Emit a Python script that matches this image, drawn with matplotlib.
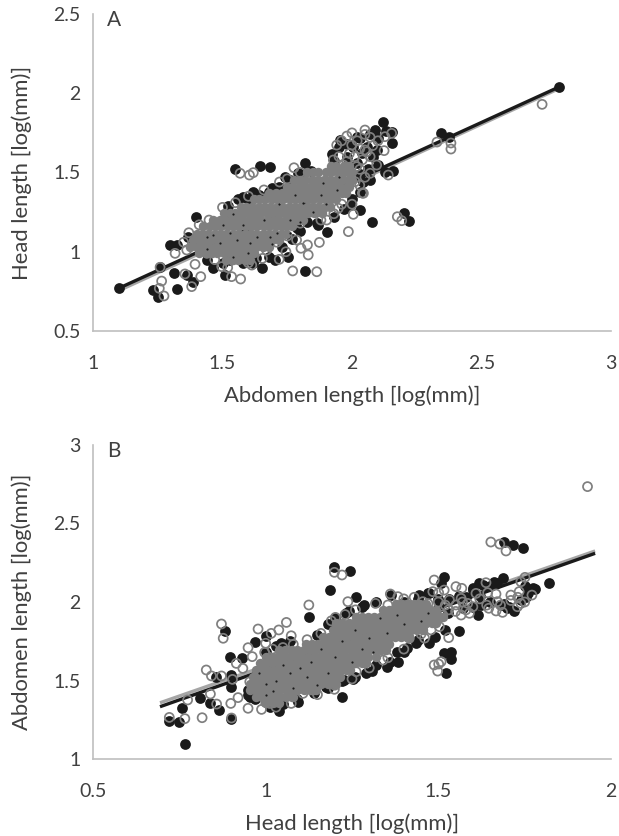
import matplotlib
matplotlib.use("Agg")
import matplotlib.pyplot as plt

plt.rcParams['font.family'] = ['Lato', 'DejaVu Sans']

BLACK = '#1a1a1a'
GREY = '#7f7f7f'
AXIS = '#bfbfbf'
TEXT = '#404040'

##################################################
# Panel A, lone filled points (abdomen, head)
a_black_x = [1.10,1.233,1.252,1.326,1.259,1.314,1.362,1.387,1.297,1.326,1.368,1.398,1.516,1.58,1.619,1.69,1.741,1.819,
             1.645,1.683,1.548,1.793,1.465,1.51,1.654,1.703,1.754,1.819,1.902,2.076,2.031,1.992,2.201,2.221,2.121,2.089,
             2.153,2.153,2.127,2.16,2.044,2.018,1.954,1.921,2.095,2.057,2.005,1.864,1.786,1.825,1.529,1.619,1.555,1.40,
             1.439,2.344,2.375,2.80,
             1.52,1.56,1.60,1.64,1.68,1.72,1.76,1.80,1.84,1.50,1.58,1.63,1.68,1.73,1.77,1.80,1.87,1.93,1.97,2.00,2.03,
             1.95,1.98,2.03,2.07,2.10,2.13,2.04,2.08,2.02,2.06,2.10,1.98,1.93,2.03,2.07]
a_black_y = [0.77,0.759,0.717,0.763,0.902,0.868,0.853,0.811,1.043,1.043,1.095,1.221,1.253,1.348,1.379,1.40,1.474,1.558,
             1.541,1.533,1.52,1.495,0.895,0.853,0.895,0.948,0.969,0.881,1.127,1.186,1.263,1.295,1.247,1.196,1.816,1.768,
             1.758,1.684,1.505,1.512,1.442,1.726,1.705,1.617,1.642,1.663,1.663,1.179,1.148,1.19,0.948,0.927,0.99,1.085,
             0.948,1.749,1.724,2.04,
             1.29,1.33,1.33,1.36,1.38,1.41,1.45,1.49,1.51,0.93,0.93,0.96,0.97,1.03,1.08,1.13,1.17,1.22,1.27,1.33,1.38,
             1.66,1.68,1.72,1.74,1.72,1.76,1.62,1.60,1.56,1.52,1.55,1.60,1.57,1.49,1.45]
# Panel A, lone open points
a_grey_x = [1.259,1.265,1.256,1.274,1.381,1.416,1.355,1.394,1.317,1.362,1.448,1.568,1.604,1.619,1.776,1.57,1.535,1.497,
            1.613,1.719,1.654,1.771,1.864,1.831,1.828,1.874,1.803,1.786,1.745,1.986,2.005,2.175,2.192,1.902,1.947,2.044,
            2.14,2.095,2.124,2.057,2.153,2.127,2.05,2.07,1.98,1.941,1.999,2.05,1.928,1.967,2.018,2.07,2.012,2.734,2.328,
            2.382,2.382,
            1.95,1.98,2.01,2.04,2.07,1.99,2.03,2.08,2.10,2.02,2.05,2.00,1.96,2.03,2.05,2.03,2.04,2.00,1.96,1.93,1.88,
            1.35,1.37,1.41,1.50,1.55,1.60,1.66,1.72,1.75,1.80,1.52,1.47,1.44,1.60,1.67,1.71,1.75,1.80]
a_grey_y = [0.902,0.815,0.769,0.721,0.78,0.843,0.86,0.921,0.99,1.011,1.20,1.495,1.484,1.499,1.53,0.828,0.843,0.906,
            0.916,0.952,0.958,0.879,0.874,0.98,1.043,1.059,1.022,1.074,1.00,1.127,1.236,1.221,1.196,1.20,1.274,1.369,
            1.484,1.547,1.638,1.631,1.747,1.726,1.768,1.722,1.73,1.673,1.673,1.642,1.579,1.547,1.537,1.495,1.442,1.93,
            1.692,1.686,1.648,
            1.60,1.57,1.60,1.58,1.60,1.62,1.65,1.67,1.70,1.70,1.74,1.75,1.70,1.52,1.47,1.42,1.37,1.30,1.30,1.24,1.20,
            1.06,1.12,1.17,1.28,1.31,1.35,1.39,1.44,1.46,1.50,0.90,0.95,0.99,0.93,1.01,1.06,1.10,1.18]
# Panel A, the dense cloud read row by row, and the filled points showing through it
a_speck_x = [1.465,1.529,1.555,1.49,1.606,1.632,1.683,1.761,1.812,1.889,1.941,1.709,1.542,1.439,1.761,1.85,1.90,1.66,1.58,
             1.50,1.72,1.78,1.95,1.60,1.44,1.80,1.88,1.69,1.54]
a_speck_y = [1.106,1.116,1.074,1.053,1.053,1.095,1.095,1.20,1.305,1.432,1.39,1.116,0.969,1.095,1.116,1.25,1.30,1.20,1.17,
             1.17,1.30,1.36,1.47,0.99,1.02,1.19,1.36,1.05,1.24]
a_cloud_y = [1.54,1.50,1.45,1.41,1.37,1.33,1.285,1.245,1.20,1.16,1.115,1.075,1.03,0.99,0.95]
a_cloud_x = [[1.92,1.94,1.97,1.99],
             [1.825,1.85,1.87,1.90,1.92,1.945,1.97,1.99,2.00],
             [1.775,1.80,1.82,1.845,1.87,1.89,1.915,1.94,1.96,1.985,2.00],
             [1.75,1.77,1.795,1.82,1.84,1.865,1.885,1.91,1.935,1.955,1.98,1.99],
             [1.68,1.705,1.73,1.75,1.775,1.80,1.82,1.845,1.87,1.89,1.915,1.94,1.96,1.975],
             [1.62,1.64,1.665,1.69,1.71,1.735,1.76,1.78,1.805,1.83,1.85,1.875,1.90,1.92,1.94],
             [1.57,1.59,1.615,1.64,1.66,1.685,1.71,1.73,1.755,1.78,1.80,1.825,1.85,1.87,1.895,1.915],
             [1.505,1.53,1.55,1.575,1.60,1.62,1.645,1.67,1.69,1.715,1.74,1.76,1.785,1.81,1.83,1.855,1.885],
             [1.465,1.49,1.51,1.535,1.56,1.58,1.605,1.63,1.65,1.675,1.70,1.72,1.745,1.77,1.79,1.81],
             [1.425,1.45,1.47,1.495,1.52,1.54,1.565,1.59,1.61,1.635,1.66,1.68,1.705,1.73,1.75,1.77],
             [1.40,1.42,1.445,1.47,1.49,1.515,1.54,1.56,1.585,1.61,1.63,1.655,1.68,1.70,1.725,1.745],
             [1.385,1.41,1.43,1.455,1.48,1.50,1.525,1.55,1.57,1.595,1.62,1.64,1.665,1.69,1.72],
             [1.375,1.40,1.42,1.445,1.47,1.49,1.515,1.54,1.56,1.585,1.61,1.63,1.655,1.68],
             [1.41,1.435,1.46,1.48,1.505,1.53,1.55,1.575,1.60,1.62],
             [1.515,1.54,1.56,1.585,1.605]]
a_fit_x = [1.10,2.80]
a_fit_black = [0.77,2.04]
a_fit_grey = [0.755,2.03]

##################################################
# Panel B, lone filled points (head, abdomen)
b_black_x = [0.766,0.72,0.75,0.759,0.809,0.84,0.864,0.901,0.882,0.898,0.932,0.97,1.00,0.857,0.901,0.901,0.949,1.038,1.093,
             1.221,1.307,1.352,1.384,1.402,1.474,1.435,1.561,1.517,1.537,1.537,1.522,1.125,1.185,1.199,1.243,1.262,1.286,
             1.18,1.233,1.363,1.443,1.474,1.515,1.508,1.691,1.717,1.744,1.821,1.686,1.662,1.618,1.599,1.773,1.753,1.705,
             1.681,1.614,1.623,1.503,1.527,1.228,1.252,1.175,0.954,1.012,1.045,
             1.56,1.58,1.60,1.63,1.65,1.67,1.62,1.65,1.60,1.57,1.70,1.72,1.69,1.74,1.76,1.78,1.75,1.53,1.50,1.47,1.44,1.40,
             0.95,0.97,1.00,1.05,1.09,1.14,1.18,1.22,1.26,1.29,1.32,1.36,1.38,1.41,1.44,1.49,1.52,
             1.03,1.00,1.07,1.15,1.20,1.24,1.28,1.32]
b_black_y = [1.093,1.244,1.233,1.323,1.386,1.354,1.312,1.257,1.815,1.652,1.641,1.747,1.783,1.524,1.535,1.461,1.408,1.306,1.365,
             1.397,1.563,1.584,1.616,1.684,1.737,1.737,1.817,1.673,1.679,1.637,1.546,1.902,2.076,2.221,2.197,2.03,1.981,
             1.86,1.928,2.044,2.044,2.055,2.157,2.119,2.384,2.363,2.342,2.119,2.151,2.129,2.119,2.076,2.087,2.034,1.97,
             1.981,1.917,1.981,1.97,1.928,1.503,1.507,1.461,1.397,1.333,1.737,
             2.04,2.03,2.09,2.11,2.10,2.12,2.04,2.00,1.97,1.96,1.96,1.94,1.99,2.01,2.06,2.08,2.10,2.02,2.02,2.06,2.02,2.00,
             1.44,1.38,1.36,1.35,1.38,1.42,1.45,1.50,1.52,1.55,1.60,1.62,1.68,1.71,1.76,1.78,1.82,
             1.72,1.68,1.75,1.79,1.90,1.94,1.97,2.00]
# Panel B, lone open points
b_grey_x = [0.721,0.766,0.816,0.774,0.84,0.858,0.899,0.92,0.949,0.988,0.901,0.872,0.877,0.978,1.016,1.038,1.06,1.074,0.997,
            1.00,0.949,0.961,0.915,0.828,0.843,0.872,0.904,0.954,0.934,1.199,1.074,1.125,1.199,1.221,1.238,1.202,1.318,
            1.383,1.361,1.354,1.488,1.501,1.551,1.568,1.53,1.508,1.488,1.501,1.498,1.652,1.678,1.696,1.932,1.751,1.739,
            1.771,1.734,1.71,1.739,1.729,1.686,1.667,1.646,1.671,1.667,1.643,1.638,1.609,1.59,1.566,1.585,1.551,1.566,
            1.532,1.513,1.503,1.479,1.517,1.484,1.455,1.45,1.416,1.354,1.262,1.137,1.108,1.012,
            1.57,1.60,1.62,1.64,1.68,1.71,1.73,1.75,1.53,1.55,1.58,1.52,1.50,1.47,1.43,1.40,1.41,
            1.02,1.05,1.08,1.12,1.16,1.19,1.23,1.26,1.00,1.03,1.15,1.20,1.25,1.30,1.34,1.40,1.46]
b_grey_y = [1.265,1.257,1.263,1.376,1.414,1.35,1.354,1.391,1.323,1.316,1.261,1.86,1.769,1.828,1.80,1.822,1.87,1.785,1.679,
            1.737,1.709,1.652,1.609,1.567,1.529,1.529,1.507,1.492,1.577,1.444,1.354,1.981,2.189,2.172,2.002,1.902,1.991,
            2.034,2.051,1.981,2.14,2.059,2.098,2.087,1.773,1.62,1.599,1.605,1.56,2.382,2.369,2.325,2.735,2.157,2.129,
            2.044,2.066,2.044,1.991,1.97,1.934,1.943,1.96,2.002,2.051,2.059,2.123,2.055,1.928,1.917,1.991,1.981,2.023,
            2.013,1.917,1.843,1.822,2.076,2.066,2.002,1.796,1.769,1.645,1.556,1.439,1.418,1.354,
            2.00,1.97,2.02,1.98,1.98,2.01,2.03,2.00,1.95,1.94,1.95,1.98,2.00,1.99,2.03,2.02,1.98,
            1.70,1.71,1.73,1.76,1.80,1.88,1.92,1.95,1.36,1.33,1.41,1.47,1.51,1.58,1.63,1.70,1.77]
# Panel B, the dense cloud read row by row, and the filled points showing through it
b_speck_x = [1.00,1.03,1.08,1.12,1.05,1.10,1.00,1.15,1.18,1.20,1.25,1.28,1.30,1.35,1.40,1.45,1.38,1.33,1.26,1.22,1.16,1.07,
             1.13,1.31,0.98,1.02,1.47]
b_speck_y = [1.41,1.50,1.45,1.52,1.60,1.58,1.48,1.47,1.55,1.65,1.62,1.70,1.77,1.80,1.86,1.88,1.92,1.90,1.82,1.75,1.70,1.55,
             1.62,1.68,1.55,1.43,1.93]
b_cloud_y = [1.99,1.95,1.905,1.865,1.82,1.78,1.735,1.695,1.65,1.61,1.565,1.525,1.48,1.44,1.395,1.355]
b_cloud_x = [[1.378,1.395,1.413,1.43,1.447,1.464],
             [1.339,1.356,1.373,1.391,1.408,1.425,1.443,1.46,1.477,1.493],
             [1.262,1.279,1.297,1.314,1.331,1.349,1.366,1.383,1.40,1.418,1.435,1.452,1.47,1.487,1.504,1.513],
             [1.204,1.22,1.24,1.256,1.273,1.29,1.308,1.325,1.342,1.36,1.377,1.394,1.412,1.43,1.447,1.464,1.481,1.493],
             [1.195,1.212,1.23,1.247,1.264,1.282,1.30,1.316,1.334,1.351,1.368,1.386,1.403,1.42,1.438,1.455],
             [1.166,1.183,1.20,1.218,1.235,1.252,1.27,1.287,1.304,1.322,1.339,1.356,1.374,1.391,1.408,1.416],
             [1.118,1.135,1.152,1.17,1.187,1.204,1.222,1.24,1.256,1.273,1.29,1.308,1.325,1.342,1.358],
             [1.04,1.057,1.075,1.092,1.11,1.127,1.144,1.162,1.18,1.197,1.214,1.231,1.249,1.266,1.283,1.30,1.318,1.335,1.349],
             [1.002,1.02,1.037,1.054,1.07,1.089,1.106,1.123,1.14,1.158,1.175,1.193,1.21,1.227,1.244,1.262,1.28,1.297,1.32],
             [0.983,1.00,1.018,1.035,1.052,1.07,1.087,1.104,1.122,1.14,1.156,1.174,1.19,1.208,1.226,1.243,1.26,1.278,1.291],
             [0.973,0.99,1.008,1.025,1.042,1.06,1.077,1.094,1.112,1.13,1.146,1.164,1.18,1.198,1.216,1.233,1.243],
             [0.963,0.98,0.998,1.015,1.032,1.05,1.067,1.085,1.102,1.12,1.136,1.154,1.17,1.188,1.206,1.214],
             [0.954,0.971,0.988,1.006,1.023,1.04,1.058,1.075,1.092,1.11,1.127,1.144,1.16,1.18,1.197,1.204],
             [0.954,0.971,0.988,1.006,1.023,1.04,1.058,1.075,1.092,1.11,1.127,1.146],
             [0.973,0.99,1.008,1.025,1.042,1.06,1.077,1.079],
             [1.002,1.02,1.04]]
b_fit_x = [0.694,1.954]
b_fit_black = [1.333,2.31]
b_fit_grey = [1.358,2.325]


def unroll(rows_y, rows_x):
    xs, ys = [], []
    for y, row in zip(rows_y, rows_x):
        xs += row
        ys += [y] * len(row)
    return xs, ys


def draw_panel(ax, letter, black, grey, specks, cloud, fit_x, fit_black, fit_grey, xlim, ylim, xticks, yticks, xlabel, ylabel):
    ax.plot(fit_x, fit_grey, color='#a6a6a6', lw=2.4, solid_capstyle='butt', zorder=1)
    ax.plot(fit_x, fit_black, color=BLACK, lw=2.4, solid_capstyle='butt', zorder=1.5)
    cx, cy = unroll(*cloud)
    ax.scatter(black[0], black[1], s=60, color=BLACK, linewidths=0, zorder=2)
    ax.scatter(grey[0], grey[1], s=42, facecolors='none', edgecolors=GREY, linewidths=1.25, zorder=3)
    # the rings in the cloud overlap so much they read as solid grey
    ax.scatter(cx, cy, s=46, color=GREY, linewidths=0, zorder=3)
    ax.scatter(specks[0], specks[1], s=2.5, color=BLACK, linewidths=0, zorder=4)

    ax.set_xlim(xlim)
    ax.set_ylim(ylim)
    ax.set_xticks(xticks)
    ax.set_yticks(yticks)
    ax.set_xticklabels([f'{t:g}' for t in xticks])
    ax.set_yticklabels([f'{t:g}' for t in yticks])
    ax.tick_params(length=0, labelsize=14, labelcolor=TEXT)
    ax.tick_params(axis='x', pad=17)
    ax.tick_params(axis='y', pad=9)
    ax.set_xlabel(xlabel, fontsize=15.8, color=TEXT, labelpad=10)
    ax.set_ylabel(ylabel, fontsize=15.8, color=TEXT, labelpad=15)
    for side in ['top', 'right']:
        ax.spines[side].set_visible(False)
    for side in ['left', 'bottom']:
        ax.spines[side].set_color(AXIS)
        ax.spines[side].set_linewidth(1.2)
    ax.text(0.04, 0.982, letter, transform=ax.transAxes, fontsize=15, color=TEXT, ha='center', va='center')


W, H = 619, 836
fig = plt.figure(figsize=(W / 100, H / 100), dpi=100)
ax_a = fig.add_axes([93 / W, 1 - 331 / H, 518 / W, 317 / H])
ax_b = fig.add_axes([93 / W, 1 - 759 / H, 518 / W, 314 / H])

draw_panel(ax_a, 'A', (a_black_x, a_black_y), (a_grey_x, a_grey_y), (a_speck_x, a_speck_y), (a_cloud_y, a_cloud_x),
           a_fit_x, a_fit_black, a_fit_grey, (1, 3), (0.5, 2.5), [1, 1.5, 2, 2.5, 3], [0.5, 1, 1.5, 2, 2.5],
           'Abdomen length [log(mm)]', 'Head length [log(mm)]')
draw_panel(ax_b, 'B', (b_black_x, b_black_y), (b_grey_x, b_grey_y), (b_speck_x, b_speck_y), (b_cloud_y, b_cloud_x),
           b_fit_x, b_fit_black, b_fit_grey, (0.5, 2), (1, 3), [0.5, 1, 1.5, 2], [1, 1.5, 2, 2.5, 3],
           'Head length [log(mm)]', 'Abdomen length [log(mm)]')

fig.savefig('out.png', dpi=100)
